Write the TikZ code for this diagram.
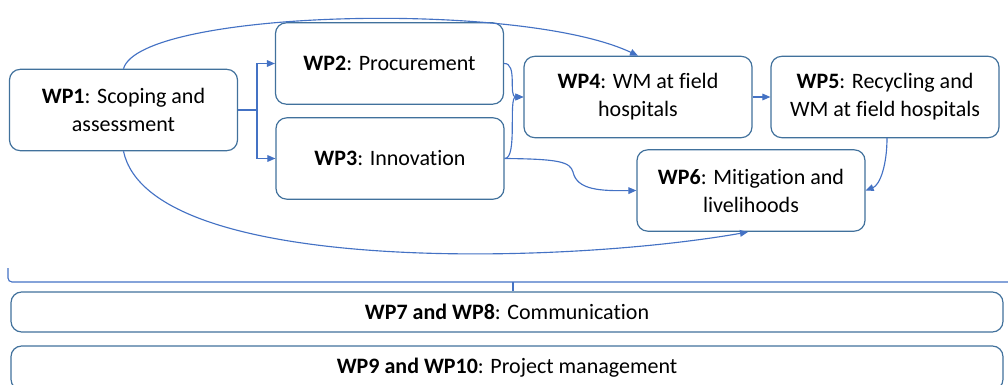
\documentclass[tikz,border=0pt]{standalone}
\usepackage{fontspec}
\setmainfont[RawFeature={-liga}]{Carlito}
\usetikzlibrary{arrows.meta}

\definecolor{boxline}{HTML}{41719C}
\definecolor{link}{HTML}{4472C4}

\begin{document}
\begin{tikzpicture}[x=0.75pt, y=-0.75pt,
    wp/.style={rectangle, rounded corners=8pt, draw=boxline, line width=0.9pt,
      fill=white, align=center, font=\fontsize{16.5}{21}\selectfont,
      minimum width=171pt, minimum height=61pt, inner sep=2pt},
    bar/.style={wp, minimum width=744pt, minimum height=30pt},
    conn/.style={draw=link, line width=0.85pt},
    >={Triangle[length=6pt,width=5pt]}]
  \useasboundingbox (0,0) rectangle (1008,385);

  % work package boxes
  \node[wp] (wp1) at (123.5,110) {\textbf{WP1}: Scoping and\\assessment};
  \node[wp] (wp2) at (389.5,63.5) {\textbf{WP2}: Procurement};
  \node[wp] (wp3) at (390,158.5) {\textbf{WP3}: Innovation};
  \node[wp] (wp4) at (638,97) {\textbf{WP4}: WM at field\\hospitals};
  \node[wp] (wp5) at (885,97) {\textbf{WP5}: Recycling and\\WM at field hospitals};
  \node[wp] (wp6) at (751,190.5) {\textbf{WP6}: Mitigation and\\livelihoods};
  \node[bar] (wp7) at (507,312) {\textbf{WP7 and WP8}: Communication};
  \node[bar, minimum height=33pt] (wp9) at (507,368) {\textbf{WP9 and WP10}: Project management};

  % split from WP1 into WP2 and WP3
  \coordinate (fork) at (257,110);
  \draw[conn] (wp1.east) -- (fork);
  \draw[conn,->] (fork) |- (wp2.west);
  \draw[conn,->] (fork) |- (wp3.west);

  % long curves around the middle row
  \draw[conn,->] (wp1.north) .. controls (140,10) and (520,0) .. (wp4.north);
  \draw[conn,->] (wp1.south) .. controls (150,275) and (560,265) .. (748,232);

  % into WP4
  \draw[conn,->] (wp2.east) .. controls (518,63) and (508,97) .. (wp4.west);
  \draw[conn,->] (wp3.east) .. controls (518,159) and (508,97) .. (wp4.west);
  \draw[conn,->] (wp3.east) .. controls (560,159) and (570,162) .. (573,172)
    .. controls (577,190) and (600,191) .. (wp6.west);

  \draw[conn,->] (wp4.east) -- (wp5.west);
  \draw[conn,->] (887,138) .. controls (887,165) and (880,185) .. (wp6.east);

  % bracket over the bottom bars
  \coordinate (brl) at (8,268);
  \coordinate (brm) at (513,282);
  \draw[conn, rounded corners=3pt] (brl) -- (8,282) -- (1010,282);
  \draw[conn] (brm) -- (wp7.north -| brm);
\end{tikzpicture}
\end{document}
